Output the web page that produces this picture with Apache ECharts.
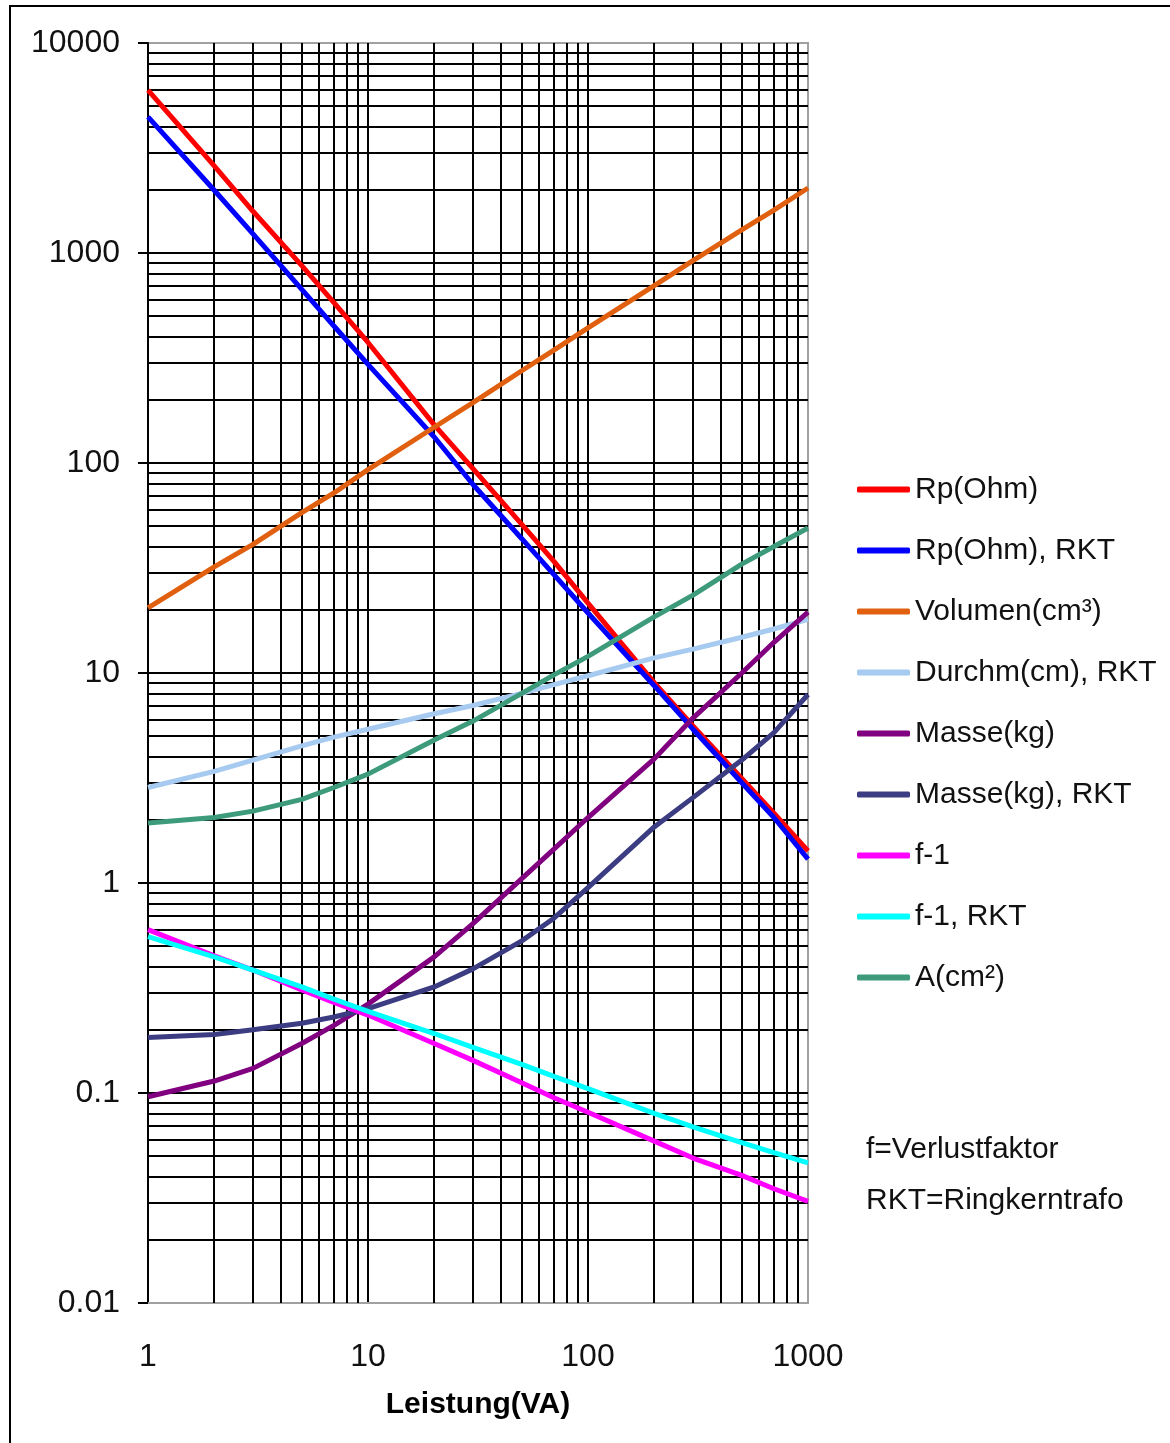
<!DOCTYPE html>
<html>
<head>
<meta charset="utf-8">
<script src="https://cdn.jsdelivr.net/npm/echarts@6/dist/echarts.min.js"></script>
<style>
html,body{margin:0;padding:0;background:#fff;}
#chart{width:1170px;height:1443px;}
</style>
</head>
<body>
<div id="chart"></div>
<script>
// ---- data ----
const xValues = [1, 2, 3, 5, 7, 10, 20, 30, 50, 70, 100, 200, 300, 500, 700, 1000];
const rpOhm      = [5970, 2600, 1580, 870, 580, 375, 152, 94, 51, 34, 21.5, 9.0, 5.6, 3.15, 2.15, 1.42];
const rpOhmRkt   = [4450, 1990, 1233, 671, 449, 295, 133, 79, 43.6, 29.4, 19.3, 8.7, 5.4, 3.0, 2.05, 1.3];
const volumen    = [20.4, 32, 41, 58, 72, 93, 148, 194, 275, 345, 440, 700, 920, 1290, 1600, 2040];
const durchmRkt  = [2.85, 3.4, 3.85, 4.5, 4.95, 5.4, 6.4, 7.0, 8.0, 8.8, 9.7, 11.8, 13.0, 14.8, 16.2, 18.0];
const masse      = [0.096, 0.114, 0.131, 0.172, 0.21, 0.265, 0.445, 0.64, 1.05, 1.45, 2.05, 3.9, 6.1, 10.0, 14.0, 19.5];
const masseRkt   = [0.184, 0.19, 0.2, 0.215, 0.23, 0.252, 0.32, 0.39, 0.53, 0.68, 0.95, 1.85, 2.55, 3.85, 5.2, 7.9];
const fMinus1    = [0.60, 0.45, 0.385, 0.31, 0.27, 0.235, 0.172, 0.143, 0.112, 0.095, 0.081, 0.059, 0.049, 0.0405, 0.035, 0.0305];
const fMinus1Rkt = [0.555, 0.445, 0.385, 0.32, 0.28, 0.245, 0.192, 0.165, 0.137, 0.12, 0.105, 0.08, 0.069, 0.058, 0.052, 0.0465];
const areaA      = [1.93, 2.05, 2.2, 2.5, 2.85, 3.3, 4.8, 5.9, 8.0, 9.8, 12.0, 18.5, 23.5, 33, 40, 49];

const seriesNames = ['Rp(Ohm)', 'Rp(Ohm), RKT', 'Volumen(cm³)', 'Durchm(cm), RKT', 'Masse(kg)', 'Masse(kg), RKT', 'f-1', 'f-1, RKT', 'A(cm²)'];
const seriesValues = [rpOhm, rpOhmRkt, volumen, durchmRkt, masse, masseRkt, fMinus1, fMinus1Rkt, areaA];
const seriesColors = ['#ff0000', '#0000ff', '#e06010', '#a6caf0', '#800080', '#3c3c82', '#ff00ff', '#00ffff', '#3d9b7c'];

const xTickLabels = ['1', '10', '100', '1000'];
const yTickLabels = ['0.01', '0.1', '1', '10', '100', '1000', '10000'];
const xAxisName = 'Leistung(VA)';
const noteLines = ['f=Verlustfaktor', 'RKT=Ringkerntrafo'];

// minor log-paper grid values (2..9 per decade)
const xDecades = [1, 10, 100];
const yDecades = [0.01, 0.1, 1, 10, 100, 1000];
const minorX = [], minorY = [];
xDecades.forEach(d => { for (let k = 2; k <= 9; k++) minorX.push(+(k * d).toPrecision(3)); });
yDecades.forEach(d => { for (let k = 2; k <= 9; k++) minorY.push(+(k * d).toPrecision(3)); });

// font selection
function hasFont(f) {
  const c = document.createElement('canvas').getContext('2d');
  const t = 'mmmmmmmmmmlli10000WwQq';
  c.font = '72px monospace';
  const a = c.measureText(t).width;
  c.font = '72px "' + f + '", monospace';
  return c.measureText(t).width !== a;
}
const narrow = hasFont('Liberation Sans Narrow');
const FONT = narrow ? '"Liberation Sans Narrow", "Liberation Sans", Arial, sans-serif' : '"Liberation Sans", Arial, sans-serif';
const fs = v => Math.round(narrow ? v : v * 0.82);

const chart = echarts.init(document.getElementById('chart'), null, {renderer: 'canvas'});

const series = seriesNames.map((n, i) => ({
  name: n,
  type: 'line',
  data: xValues.map((x, j) => [x, seriesValues[i][j]]),
  symbol: 'none',
  showSymbol: false,
  smooth: false,
  z: 5,
  lineStyle: {color: seriesColors[i], width: 5},
  itemStyle: {color: seriesColors[i]},
  emphasis: {disabled: true},
  animation: false
}));

series.push({
  name: '__grid',
  type: 'line',
  data: [],
  z: 1,
  silent: true,
  animation: false,
  markLine: {
    silent: true,
    symbol: ['none', 'none'],
    label: {show: false},
    animation: false,
    lineStyle: {type: 'solid', color: '#000', width: 2},
    emphasis: {disabled: true},
    data: minorX.map(v => ({xAxis: v})).concat(minorY.map(v => ({yAxis: v})))
  }
});

const option = {
  backgroundColor: '#fff',
  animation: false,
  textStyle: {fontFamily: FONT},
  grid: {
    left: 148, top: 43, width: 660, height: 1260,
    show: true, borderColor: '#a0a0a0', borderWidth: 2, backgroundColor: 'transparent',
    containLabel: false
  },
  xAxis: {
    type: 'log', logBase: 10, min: 1, max: 1000,
    name: xAxisName, nameLocation: 'middle', nameGap: 87,
    nameTextStyle: {fontFamily: FONT, fontWeight: 'bold', fontSize: fs(36), color: '#000'},
    axisLine: {show: true, lineStyle: {color: '#a0a0a0', width: 2}},
    axisTick: {show: false},
    axisLabel: {
      margin: 38, fontFamily: FONT, fontSize: fs(39), color: '#111',
      formatter: v => xTickLabels[Math.round(Math.log10(v))]
    },
    splitLine: {show: true, showMinLine: false, showMaxLine: false, lineStyle: {color: '#000', width: 2}}
  },
  yAxis: {
    type: 'log', logBase: 10, min: 0.01, max: 10000,
    axisLine: {show: true, lineStyle: {color: '#000', width: 2}},
    axisTick: {show: true, length: 10, lineStyle: {color: '#000', width: 2}},
    axisLabel: {
      margin: 28, fontFamily: FONT, fontSize: fs(39), color: '#111',
      formatter: v => yTickLabels[Math.round(Math.log10(v)) + 2]
    },
    splitLine: {show: true, showMinLine: false, showMaxLine: false, lineStyle: {color: '#000', width: 2}}
  },
  legend: {
    data: seriesNames,
    orient: 'vertical',
    left: 857, top: 469,
    icon: 'roundRect',
    itemWidth: 53, itemHeight: 6, itemGap: 20,
    padding: 0,
    textStyle: {fontFamily: FONT, fontSize: fs(37), color: '#111', lineHeight: 41, padding: [0, 0, 0, 0]},
    selectedMode: false
  },
  graphic: [
    {type: 'rect', silent: true, z: 100, shape: {x: 10, y: 6, width: 1200, height: 1500},
     style: {fill: 'none', stroke: '#000', lineWidth: 2}},
    {type: 'text', left: 866, top: 1155 - 20, silent: true,
     style: {text: noteLines[0], fontFamily: FONT, fontSize: fs(37), fill: '#111'}},
    {type: 'text', left: 866, top: 1206 - 20, silent: true,
     style: {text: noteLines[1], fontFamily: FONT, fontSize: fs(37), fill: '#111'}}
  ],
  series: series
};
chart.setOption(option);
</script>
</body>
</html>
